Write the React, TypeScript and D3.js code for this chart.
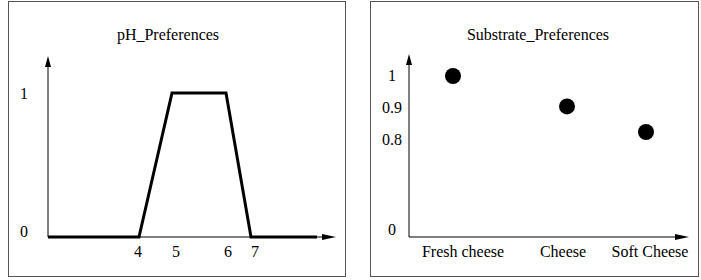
import React from "react";
import * as d3 from "d3";

// ---- data ----
const phValues = [0, 4, 5, 6, 7, 10];
const phPreference = [0, 0, 1, 1, 0, 0];
const phTickLabels = ["4", "5", "6", "7"];
const phTickValues = [4, 5, 6, 7];
const phYTicks = [0, 1];

const substrates = ["Fresh cheese", "Cheese", "Soft Cheese"];
const substrateValues = [1, 0.905, 0.825];
const substrateYTicks = [0, 0.8, 0.9, 1];
const substrateYTickLabels = ["0", "0.8", "0.9", "1"];

const FONT = "Liberation Serif, Tinos, Times New Roman, Times, DejaVu Serif, serif";
const FS = 16;

function Arrow({ x, y, dir, len, half }: { x: number; y: number; dir: "up" | "right"; len: number; half: number }) {
  const pts =
    dir === "up"
      ? [[x, y], [x - half, y + len], [x + half, y + len]]
      : [[x, y], [x - len, y - half], [x - len, y + half]];
  return <polygon points={pts.map((p) => p.join(",")).join(" ")} fill="#000" />;
}

function PhPanel() {
  const axisX = 48;
  const axisY = 237;
  const x = d3.scaleLinear().domain([0, 4, 5, 6, 7, 10]).range([48, 139, 172, 226, 251, 317]);
  const y = d3.scaleLinear().domain([0, 1]).range([237, 93]);
  const line = d3
    .line<number>()
    .x((_, i) => x(phValues[i]))
    .y((d) => y(d));
  const labelShift = [-1, 4, 2, 4];
  const yLabelDy = [0, 6];
  return (
    <g>
      <rect x={8.5} y={1.5} width={337} height={275} fill="none" stroke="#555" strokeWidth={1} />
      <text x={168} y={40} textAnchor="middle" style={{ fontFamily: FONT, fontSize: FS }}>pH_Preferences</text>
      <line x1={axisX} y1={axisY} x2={axisX} y2={66} stroke="#000" strokeWidth={1} />
      <Arrow x={axisX} y={56} dir="up" len={11} half={3} />
      <line x1={axisX} y1={axisY} x2={323} y2={axisY} stroke="#000" strokeWidth={1} />
      <Arrow x={336} y={axisY} dir="right" len={14} half={3} />
      <path d={line(phPreference) || ""} fill="none" stroke="#000" strokeWidth={3} strokeLinejoin="miter" />
      {phYTicks.map((t, i) => (
        <text key={t} x={24} y={y(t) + yLabelDy[i]} textAnchor="middle" style={{ fontFamily: FONT, fontSize: FS }}>{t}</text>
      ))}
      {phTickValues.map((t, i) => (
        <text key={t} x={x(t) + labelShift[i]} y={257} textAnchor="middle" style={{ fontFamily: FONT, fontSize: FS }}>
          {phTickLabels[i]}
        </text>
      ))}
    </g>
  );
}

function SubstratePanel() {
  const axisX = 409;
  const axisY = 237;
  const x = d3.scaleOrdinal<string, number>().domain(substrates).range([453, 567, 646]);
  const xLabel = d3.scaleOrdinal<string, number>().domain(substrates).range([463, 563, 650]);
  const y = d3.scaleLinear().domain([0, 0.8, 0.9, 1]).range([230, 140, 108, 76]);
  return (
    <g>
      <rect x={370.5} y={1.5} width={328} height={275} fill="none" stroke="#555" strokeWidth={1} />
      <text x={538} y={40} textAnchor="middle" style={{ fontFamily: FONT, fontSize: FS }}>Substrate_Preferences</text>
      <line x1={axisX} y1={axisY} x2={axisX} y2={62} stroke="#000" strokeWidth={1} />
      <Arrow x={axisX} y={54} dir="up" len={11} half={3} />
      <line x1={axisX} y1={axisY} x2={676} y2={axisY} stroke="#000" strokeWidth={1} />
      <Arrow x={689} y={axisY} dir="right" len={14} half={3} />
      {substrateYTicks.map((t, i) => (
        <text key={t} x={392} y={y(t) + 5} textAnchor="middle" style={{ fontFamily: FONT, fontSize: FS }}>
          {substrateYTickLabels[i]}
        </text>
      ))}
      {substrates.map((s, i) => (
        <circle key={s} cx={x(s)} cy={y(substrateValues[i])} r={8} fill="#000" />
      ))}
      {substrates.map((s) => (
        <text key={s} x={xLabel(s)} y={257} textAnchor="middle" style={{ fontFamily: FONT, fontSize: FS }}>{s}</text>
      ))}
    </g>
  );
}

export default function App() {
  return (
    <svg width={701} height={280} style={{ position: "absolute", left: 0, top: 0, background: "#fff" }}>
      <rect x={0} y={0} width={701} height={280} fill="#fff" />
      <PhPanel />
      <SubstratePanel />
    </svg>
  );
}
